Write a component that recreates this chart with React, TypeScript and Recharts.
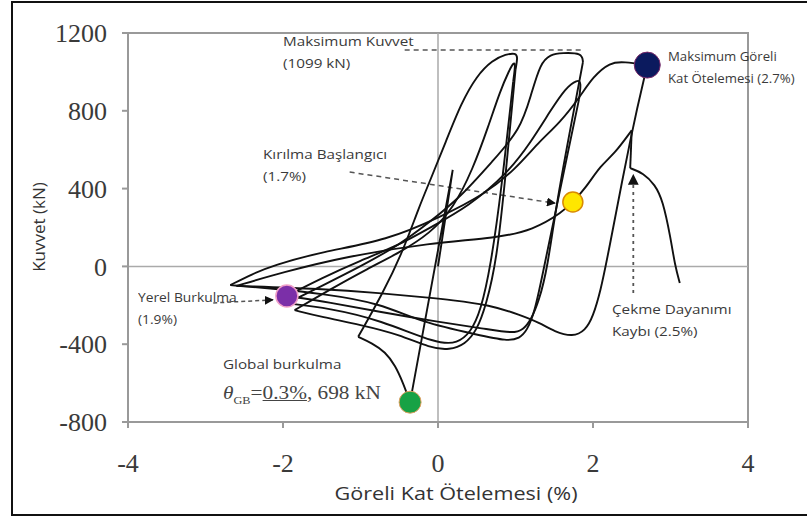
import React from 'react';
import {
  ComposedChart,
  Line,
  XAxis,
  YAxis,
  ReferenceLine,
  ReferenceDot,
  ReferenceArea,
} from 'recharts';

// ---- data (drift %, force kN) ----
const initialLoading = [[0, 0], [0.19, 496], [-0.36, -698]];
const postBuckling = [[-0.36, -698], [-0.45, -600], [-0.55, -510], [-0.68, -440], [-0.85, -395], [-1.03, -362]];
const cycle1Up = [[-1.03, -362], [-0.71, -137], [-0.45, 80], [-0.25, 300], [-0.1, 443], [0.1, 640], [0.3, 840], [0.5, 980], [0.7, 1060], [0.88, 1092], [1.0, 1096], [1.03, 1080], [1.0, 1010]];
const cycle1Down = [[1.0, 1010], [0.88, 500], [0.76, 33], [0.62, -200], [0.5, -330], [0.35, -400], [0.15, -430], [-0.1, -420], [-0.5, -350], [-1.0, -300], [-1.5, -260], [-1.85, -225]];
const cycle2Up = [[-1.85, -225], [-1.4, -120], [-0.9, -10], [-0.5, 70], [-0.1, 170], [0.2, 300], [0.45, 500], [0.65, 720], [0.8, 900], [0.92, 1010], [0.98, 1050], [1.0, 1040], [0.97, 950]];
const cycle2Down = [[0.97, 950], [0.82, 400], [0.68, 0], [0.55, -230], [0.42, -340], [0.25, -395], [0, -400], [-0.75, -275], [-1.4, -215], [-1.95, -190]];
const cycle3Up = [[-1.95, -190], [-1.5, -100], [-1.0, 0], [-0.5, 110], [-0.1, 230], [0.3, 360], [0.7, 540], [1.06, 700], [1.2, 880], [1.32, 1045], [1.45, 1090], [1.6, 1098], [1.86, 1098], [1.87, 1050]];
const cycle3Down = [[1.87, 1050], [1.8, 900], [1.54, 357], [1.41, -18], [1.3, -180], [1.2, -275], [1.1, -325], [0.97, -345], [0.6, -320], [0, -285], [-0.75, -234], [-1.4, -185], [-1.95, -152]];
const cycle4Up = [[-1.95, -152], [-1.5, -60], [-1.0, 30], [-0.5, 110], [-0.1, 200], [0.4, 310], [0.9, 480], [1.2, 640], [1.45, 800], [1.65, 920], [1.8, 960], [1.85, 950], [1.82, 860]];
const cycle4Down = [[1.82, 860], [1.5, 250], [1.35, -40], [1.25, -230], [1.15, -330], [1.05, -370], [0.9, -385], [0.5, -350], [-0.2, -290], [-0.75, -188], [-1.5, -140], [-2.1, -115], [-2.68, -96]];
const cycle5Up = [[-2.68, -96], [-2.4, -40], [-2.13, 5], [-1.5, 75], [-0.65, 135], [0.03, 254], [0.6, 370], [1.0, 500], [1.3, 640], [1.57, 737], [1.83, 871], [2.0, 975], [2.22, 1050], [2.4, 1052], [2.7, 1035]];
const cycle5Down = [[2.7, 1035], [2.5, 700], [2.18, 30], [2.1, -120], [2.0, -260], [1.9, -330], [1.74, -363], [1.5, -335], [1.32, -292], [1.06, -250], [0.67, -198], [0.15, -172], [-0.1, -162], [-0.75, -137], [-1.5, -115], [-2.6, -100]];
const finalLoading = [[-2.6, -100], [-2.0, -30], [-1.2, 50], [-0.1, 121], [0.76, 146], [1.23, 187], [1.61, 280], [1.74, 331], [1.9, 400], [2.1, 520], [2.28, 580], [2.5, 700]];
const strengthLoss = [[2.5, 700], [2.48, 505]];
const postPeak = [[2.48, 505], [2.65, 480], [2.8, 420], [2.9, 340], [3.0, 150], [3.06, 0], [3.12, -85]];

const xTicks = [-4, -2, 0, 2, 4];
const yTicks = [-800, -400, 0, 400, 800, 1200];

// marked events
const maxDrift = { x: 2.7, y: 1035 };
const fractureStart = { x: 1.74, y: 331 };
const localBuckling = { x: -1.95, y: -152 };
const globalBuckling = { x: -0.36, y: -698 };

// annotation leader lines
const maxForceLeader = [[-0.43, 1113], [1.87, 1113]];
const fractureLeader = [[-1.14, 485], [1.51, 325]];
const localBucklingLeader = [[-2.9, -188], [-2.13, -172]];
const tensionLossLeader = [[2.52, -137], [2.52, 470]];

const toPts = (arr: number[][]) => arr.map(([x, y]) => ({ x, y }));

const smoothSegments = [
  postBuckling, cycle1Up, cycle1Down, cycle2Up, cycle2Down, cycle3Up, cycle3Down,
  cycle4Up, cycle4Down, cycle5Up, cycle5Down, finalLoading, postPeak,
];
const straightSegments = [initialLoading, strengthLoss];

const note: React.CSSProperties = {
  position: 'absolute',
  fontFamily: '"Open Sans", sans-serif',
  fontSize: 12,
  lineHeight: '22px',
  color: '#3a3a3a',
  whiteSpace: 'nowrap',
  transform: 'scaleX(1.27)',
  transformOrigin: 'left center',
};

const YTick = (props: any) => {
  const { x, y, payload } = props;
  return (
    <text x={x} y={y} dy="0.35em" textAnchor="end" fill="#3a3a3a" fontFamily='"Liberation Serif", "Times New Roman", serif' fontSize={26}>
      {payload.value}
    </text>
  );
};

const XTick = (props: any) => {
  const { x, y, payload } = props;
  return (
    <text x={x} y={y} dy="0.71em" textAnchor="middle" fill="#3a3a3a" fontFamily='"Liberation Serif", "Times New Roman", serif' fontSize={26}>
      {payload.value}
    </text>
  );
};

export default function App() {
  return (
    <div style={{ position: 'absolute', left: 0, top: 0, width: 807, height: 517, background: '#fff', overflow: 'hidden' }}>
      <svg width="0" height="0" style={{ position: 'absolute' }}>
        <defs>
          <marker id="arrowHead" viewBox="0 0 10 10" refX="9" refY="5" markerWidth="6" markerHeight="6" orient="auto">
            <path d="M0,0 L10,5 L0,10 z" fill="#111" />
          </marker>
        </defs>
      </svg>
      <div style={{ position: 'absolute', left: 11, top: 1, width: 810, height: 511, border: '2px solid #111' }} />
      <div style={{ position: 'absolute', left: 0, top: 0 }}>
        <ComposedChart width={807} height={517} margin={{ top: 33, right: 59, bottom: 65, left: 68 }}>
          <XAxis
            type="number"
            dataKey="x"
            domain={[-4, 4]}
            ticks={xTicks}
            allowDataOverflow
            height={30}
            stroke="#999"
            strokeWidth={2}
            tickSize={6}
            tickMargin={26}
            tick={<XTick />}
            tickLine={{ stroke: '#999' }}
          />
          <YAxis
            type="number"
            domain={[-800, 1200]}
            ticks={yTicks}
            allowDataOverflow
            width={60}
            stroke="#999"
            strokeWidth={2}
            tickSize={6}
            tickMargin={15}
            tick={<YTick />}
            tickLine={{ stroke: '#999' }}
          />
          <ReferenceArea x1={-4} x2={4} y1={-800} y2={1200} fill="none" stroke="#999" strokeWidth={2} />
          <ReferenceLine x={0} stroke="#aaa" strokeWidth={1.5} />
          <ReferenceLine y={0} stroke="#aaa" strokeWidth={1.5} />
          <Line data={toPts(maxForceLeader)} dataKey="y" type="linear" stroke="#555" strokeWidth={1.5} strokeDasharray="5 4" dot={false} isAnimationActive={false} />
          <Line data={toPts(fractureLeader)} dataKey="y" type="linear" stroke="#555" strokeWidth={1.5} strokeDasharray="5 4" dot={false} markerEnd="url(#arrowHead)" isAnimationActive={false} />
          <Line data={toPts(localBucklingLeader)} dataKey="y" type="linear" stroke="#555" strokeWidth={1.5} strokeDasharray="4 3" dot={false} markerEnd="url(#arrowHead)" isAnimationActive={false} />
          <Line data={toPts(tensionLossLeader)} dataKey="y" type="linear" stroke="#555" strokeWidth={1.8} strokeDasharray="3 4" dot={false} markerEnd="url(#arrowHead)" isAnimationActive={false} />
          {straightSegments.map((seg, i) => (
            <Line key={'s' + i} data={toPts(seg)} dataKey="y" type="linear" stroke="#111" strokeWidth={1.9} dot={false} isAnimationActive={false} />
          ))}
          {smoothSegments.map((seg, i) => (
            <Line key={'c' + i} data={toPts(seg)} dataKey="y" type="basis" stroke="#111" strokeWidth={1.9} dot={false} isAnimationActive={false} />
          ))}
          <ReferenceDot x={maxDrift.x} y={maxDrift.y} r={13} fill="#0b1a5e" stroke="#7a2a6a" strokeWidth={1} />
          <ReferenceDot x={fractureStart.x} y={fractureStart.y} r={10} fill="#ffe600" stroke="#d98a00" strokeWidth={1.5} />
          <ReferenceDot x={localBuckling.x} y={localBuckling.y} r={11} fill="#7b2fa8" stroke="#f0a0c8" strokeWidth={1.5} />
          <ReferenceDot x={globalBuckling.x} y={globalBuckling.y} r={11} fill="#18a245" stroke="#e0a060" strokeWidth={1} />
        </ComposedChart>
      </div>
      <div style={{ ...note, left: 283, top: 31 }}>Maksimum Kuvvet<br />(1099 kN)</div>
      <div style={{ ...note, left: 668, top: 46, transform: 'scaleX(1.1)' }}>Maksimum Göreli<br />Kat Ötelemesi (2.7%)</div>
      <div style={{ ...note, left: 263, top: 144 }}>Kırılma Başlangıcı<br />(1.7%)</div>
      <div style={{ ...note, left: 138, top: 287, transform: 'scaleX(1.15)' }}>Yerel Burkulma<br />(1.9%)</div>
      <div style={{ ...note, left: 223, top: 354 }}>Global burkulma</div>
      <div style={{ position: 'absolute', left: 223, top: 382, fontFamily: '"Liberation Serif", serif', fontSize: 19, color: '#444', whiteSpace: 'nowrap', transform: 'scaleX(1.12)', transformOrigin: 'left center' }}>
        <i>θ</i><sub style={{ fontSize: 11 }}>GB</sub>=<u>0.3%</u>, 698 kN
      </div>
      <div style={{ ...note, left: 612, top: 299 }}>Çekme Dayanımı<br />Kaybı (2.5%)</div>
      <div style={{ position: 'absolute', left: 38, top: 227, transform: 'translate(-50%, -50%) rotate(-90deg)', fontFamily: '"Open Sans", sans-serif', fontSize: 17, color: '#333', whiteSpace: 'nowrap' }}>
        Kuvvet (kN)
      </div>
      <div style={{ position: 'absolute', left: 456, top: 493, transform: 'translate(-50%, -50%) scaleX(1.2)', fontFamily: '"Open Sans", sans-serif', fontSize: 18, color: '#333', whiteSpace: 'nowrap' }}>
        Göreli Kat Ötelemesi (%)
      </div>
    </div>
  );
}
